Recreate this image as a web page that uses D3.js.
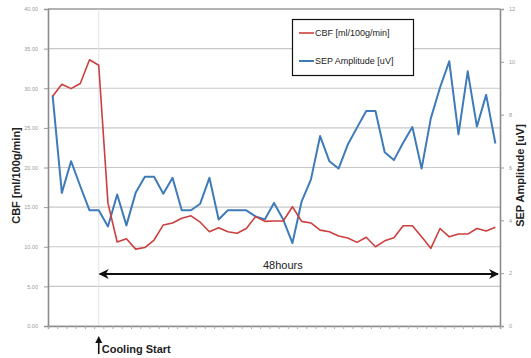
<!DOCTYPE html>
<html><head><meta charset="utf-8">
<script src="https://cdn.jsdelivr.net/npm/d3@7"></script>
<style>body{margin:0;background:#fff}svg{display:block}</style>
</head><body>
<svg id="c" width="531" height="358"></svg>
<script>
const categories = d3.range(1, 50).map(String);
const cbf = [29.0,30.5,29.95,30.6,33.6,32.9,15.5,10.6,11.0,9.7,9.9,10.85,12.75,13.0,13.6,13.9,13.1,11.9,12.4,11.9,11.7,12.3,13.8,13.2,13.25,13.25,15.05,13.2,13.0,12.1,11.9,11.35,11.1,10.55,11.2,10.0,10.75,11.15,12.65,12.65,11.25,9.8,12.3,11.25,11.6,11.6,12.3,12.0,12.45];
const sep = [8.73,5.04,6.24,5.29,4.38,4.38,3.77,4.98,3.81,5.04,5.65,5.65,5.01,5.61,4.38,4.38,4.63,5.61,4.03,4.38,4.38,4.38,4.15,4.03,4.66,4.03,3.14,4.72,5.54,7.19,6.24,5.96,6.87,7.51,8.14,8.14,6.58,6.28,6.94,7.53,5.96,7.86,9.03,10.02,7.25,9.64,7.55,8.75,6.91];
const leftTicks = [0,5,10,15,20,25,30,35,40];
const rightTicks = [0,2,4,6,8,10,12];
const coolingIndex = 5;
const seriesNames = ["CBF [ml/100g/min]", "SEP Amplitude [uV]"];

const svg = d3.select("#c");
const L = 48, R = 500, T = 9, B = 326;
const xEdge = d3.scaleLinear().domain([0, categories.length]).range([L, R]);
const x = i => xEdge(i + 0.5);
const yL = d3.scaleLinear().domain([0, 40]).range([B, T]);
const yR = d3.scaleLinear().domain([0, 12]).range([B, T]);
const red = "#cc3f3f", blue = "#3f7bb9";

// gridlines
svg.append("g").selectAll("line").data(leftTicks).join("line")
  .attr("x1", L).attr("x2", R).attr("y1", d => yL(d)).attr("y2", d => yL(d))
  .attr("stroke", d => d === 40 ? "#9a9a9a" : "#c8c8c8").attr("stroke-width", d => d===40?1.6:1.2);

// cooling start vertical line
svg.append("line").attr("x1", x(coolingIndex)).attr("x2", x(coolingIndex))
  .attr("y1", T).attr("y2", B).attr("stroke", "#dde3ef").attr("stroke-width", 1);

// left axis
const gl = svg.append("g").attr("transform", `translate(${L},0)`)
  .call(d3.axisLeft(yL).tickValues(leftTicks).tickFormat(d3.format(".2f")).tickSize(4).tickPadding(6));
gl.select(".domain").attr("stroke", "#8c8c8c").attr("stroke-width", 1.6);
gl.selectAll(".tick line").attr("stroke", "#999");
gl.selectAll("text").attr("font-family", "Liberation Sans, Arial, sans-serif").attr("font-size", 5.5).attr("fill", "#9a9a9a");

// right axis
const gr = svg.append("g").attr("transform", `translate(${R},0)`)
  .call(d3.axisRight(yR).tickValues(rightTicks).tickSize(4).tickPadding(5));
gr.select(".domain").attr("stroke", "#8c8c8c").attr("stroke-width", 1.6);
gr.selectAll(".tick line").attr("stroke", "#999");
gr.selectAll("text").attr("font-family", "Liberation Sans, Arial, sans-serif").attr("font-size", 5.5).attr("fill", "#9a9a9a");

// bottom axis
const gb = svg.append("g").attr("transform", `translate(0,${B})`)
  .call(d3.axisBottom(xEdge).tickValues(d3.range(0, categories.length + 1)).tickFormat("").tickSize(3));
gb.select(".domain").attr("stroke", "#8c8c8c").attr("stroke-width", 1.4);
gb.selectAll(".tick line").attr("stroke", "#aaa");

// lines
const lineL = d3.line().x((d, i) => x(i)).y(d => yL(d));
const lineR = d3.line().x((d, i) => x(i)).y(d => yR(d));
svg.append("path").datum(sep).attr("d", lineR).attr("fill", "none").attr("stroke", blue).attr("stroke-width", 2).attr("stroke-linejoin", "round");
svg.append("path").datum(cbf).attr("d", lineL).attr("fill", "none").attr("stroke", red).attr("stroke-width", 1.6).attr("stroke-linejoin", "round");

// axis titles
svg.append("text").attr("transform", `translate(20,${(T + B) / 2 + 8}) rotate(-90)`)
  .attr("text-anchor", "middle").attr("font-family", "Liberation Sans, Arial, sans-serif")
  .attr("font-size", 11).attr("font-weight", "bold").attr("fill", "#222").text(seriesNames[0]);
svg.append("text").attr("transform", `translate(524,${(T + B) / 2 + 8}) rotate(-90)`)
  .attr("text-anchor", "middle").attr("font-family", "Liberation Sans, Arial, sans-serif")
  .attr("font-size", 11).attr("font-weight", "bold").attr("fill", "#222").text(seriesNames[1]);

// legend
const lg = svg.append("g");
lg.append("rect").attr("x", 292.5).attr("y", 19.5).attr("width", 121).attr("height", 56)
  .attr("fill", "#fff").attr("stroke", "#111").attr("stroke-width", 1.2);
[[red, 33], [blue, 61]].forEach(([c, yy], k) => {
  lg.append("line").attr("x1", 299).attr("x2", 314).attr("y1", yy).attr("y2", yy).attr("stroke", c).attr("stroke-width", k ? 2 : 1.6);
  lg.append("text").attr("x", 315).attr("y", yy + 3).attr("font-family", "Liberation Sans, Arial, sans-serif")
    .attr("font-size", 9).attr("fill", "#222").text(seriesNames[k]);
});

// 48 hours arrow
const ay = 274;
const defs = svg.append("defs");
defs.append("marker").attr("id", "ah").attr("viewBox", "0 0 10 10").attr("refX", 9).attr("refY", 5)
  .attr("markerWidth", 5).attr("markerHeight", 5).attr("orient", "auto-start-reverse")
  .append("path").attr("d", "M0,0 L10,5 L0,10 L3,5 z").attr("fill", "#111");
svg.append("line").attr("x1", x(coolingIndex) + 1).attr("x2", 498).attr("y1", ay).attr("y2", ay)
  .attr("stroke", "#111").attr("stroke-width", 2).attr("marker-start", "url(#ah)").attr("marker-end", "url(#ah)");
svg.append("text").attr("x", 263).attr("y", 269).attr("font-family", "Liberation Sans, Arial, sans-serif")
  .attr("font-size", 11).attr("fill", "#222").text("48hours");

// cooling start
const cx = x(coolingIndex);
svg.append("line").attr("x1", cx).attr("x2", cx).attr("y1", 354).attr("y2", 340)
  .attr("stroke", "#111").attr("stroke-width", 1.6);
svg.append("path").attr("d", `M${cx - 3.5},${343} L${cx},${336} L${cx + 3.5},${343} Z`).attr("fill", "#111");
svg.append("text").attr("x", cx + 3).attr("y", 353).attr("font-family", "Liberation Sans, Arial, sans-serif")
  .attr("font-size", 11).attr("font-weight", "bold").attr("fill", "#222").text("Cooling Start");
</script>
</body></html>
